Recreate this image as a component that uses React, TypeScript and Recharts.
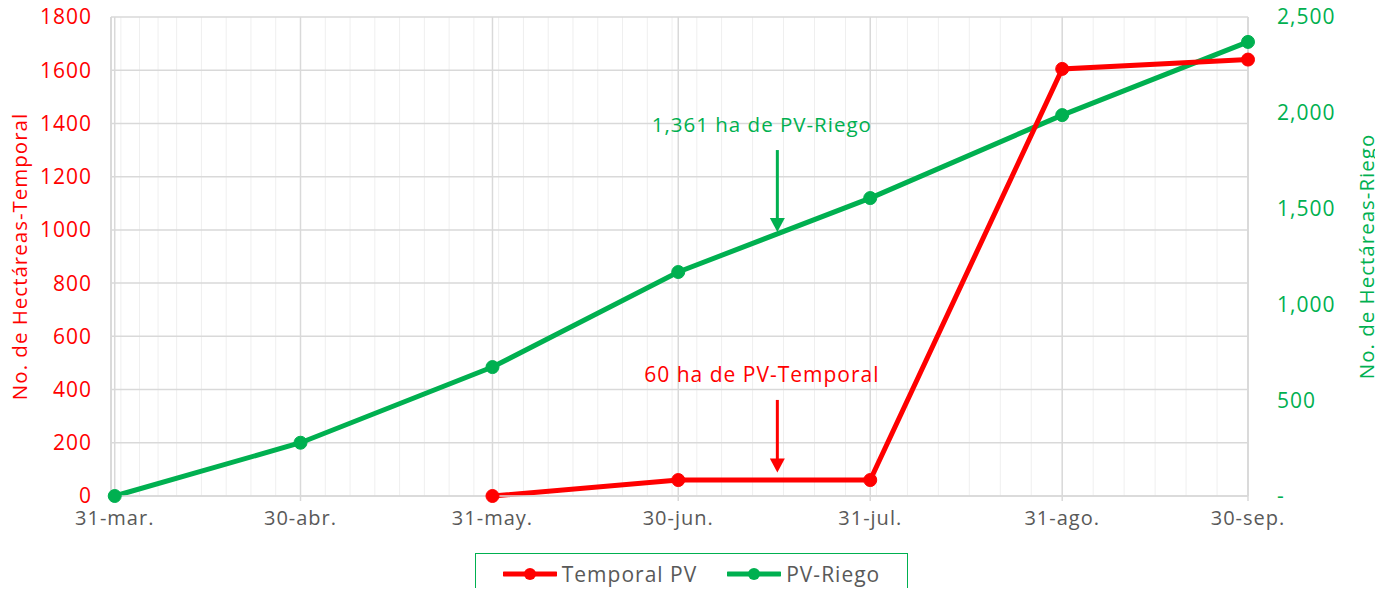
import { LineChart, Line, XAxis, YAxis, CartesianGrid, Legend, ReferenceLine, ReferenceDot } from 'recharts';

const days = [0, 30, 61, 91, 122, 153, 183];
const dateLabels = ['31-mar.', '30-abr.', '31-may.', '30-jun.', '31-jul.', '31-ago.', '30-sep.'];
const temporalPV = [null, null, 0, 60, 60, 1605, 1640];
const pvRiego = [0, 278, 673, 1169, 1555, 1988, 2370];
const leftTicks = [0, 200, 400, 600, 800, 1000, 1200, 1400, 1600, 1800];
const rightTicks = [0, 500, 1000, 1500, 2000, 2500];
const dailyTicks = Array.from({ length: 184 }, (_, i) => i);

const RED = '#ff0000';
const GREEN = '#00b050';
const GRAY = '#595959';
const FONT = '"Open Sans", sans-serif';

const data = days.map((day, i) => ({ day, temporal: temporalPV[i], riego: pvRiego[i] }));

const arrowShape = (color: string) => (props: any) => {
  const { x1, y1, x2, y2 } = props;
  return (
    <g>
      <line x1={x1} y1={y1} x2={x2} y2={y2 - 12} stroke={color} strokeWidth={3} />
      <polygon points={`${x2 - 7.5},${y2 - 14} ${x2 + 7.5},${y2 - 14} ${x2},${y2}`} fill={color} />
    </g>
  );
};

const AxisTitle = ({ viewBox, value, color, x }: any) => {
  const cy = viewBox.y + viewBox.height / 2;
  return (
    <text
      x={x}
      y={cy}
      transform={`rotate(-90, ${x}, ${cy})`}
      textAnchor="middle"
      dominantBaseline="central"
      fill={color}
      fontSize={20.5}
      fontFamily={FONT}
    >
      {value}
    </text>
  );
};

const LegendItems = () => (
  <div
    style={{
      height: 39,
      display: 'flex',
      alignItems: 'center',
      justifyContent: 'center',
      gap: 30,
      fontFamily: FONT,
      fontSize: 21,
      letterSpacing: '1px',
      color: GRAY,
    }}
  >
    {[
      { name: 'Temporal PV', color: RED },
      { name: 'PV-Riego', color: GREEN },
    ].map((item) => (
      <div key={item.name} style={{ display: 'flex', alignItems: 'center', gap: 5 }}>
        <svg width={54} height={14}>
          <line x1={1} y1={7} x2={53} y2={7} stroke={item.color} strokeWidth={5} strokeLinecap="round" />
          <circle cx={27} cy={7} r={6} fill={item.color} />
        </svg>
        <span>{item.name}</span>
      </div>
    ))}
  </div>
);

export default function App() {
  return (
    <div style={{ margin: -8, width: 1383, height: 596, fontFamily: FONT, letterSpacing: '1px', background: '#fff' }}>
      <LineChart width={1383} height={596} data={data} margin={{ top: 17, right: 0, bottom: 70, left: 0 }}>
        <XAxis xAxisId="minor" type="number" dataKey="day" domain={[-0.6, 183]} ticks={dailyTicks} hide height={0} />
        <CartesianGrid xAxisId="minor" yAxisId="left" horizontal={false} stroke="#efefef" strokeWidth={1} />
        <CartesianGrid yAxisId="left" stroke="#d9d9d9" strokeWidth={1.5} />
        <XAxis
          type="number"
          dataKey="day"
          domain={[-0.6, 183]}
          ticks={days}
          interval={0}
          tickFormatter={(v: number) => dateLabels[days.indexOf(v)]}
          height={30}
          axisLine={{ stroke: '#d9d9d9', strokeWidth: 1.5 }}
          tickLine={{ stroke: '#d9d9d9', strokeWidth: 1.5 }}
          tickSize={5}
          tickMargin={10}
          tick={{ fill: GRAY, fontSize: 20 }}
        />
        <YAxis
          yAxisId="left"
          domain={[0, 1800]}
          ticks={leftTicks}
          interval={0}
          width={111}
          axisLine={{ stroke: '#d9d9d9', strokeWidth: 1.5 }}
          tickLine={false}
          tickSize={0}
          tickMargin={19}
          tick={{ fill: RED, fontSize: 21 }}
          label={{ content: (p: any) => <AxisTitle {...p} value="No. de Hectáreas-Temporal" color={RED} x={19} /> }}
        />
        <YAxis
          yAxisId="right"
          orientation="right"
          domain={[0, 2500]}
          ticks={rightTicks}
          interval={0}
          width={135}
          axisLine={{ stroke: '#d9d9d9', strokeWidth: 1.5 }}
          tickLine={false}
          tickSize={0}
          tickMargin={29}
          tickFormatter={(v: number) => (v === 0 ? '-' : v.toLocaleString('en-US'))}
          tick={{ fill: GREEN, fontSize: 21, textAnchor: 'start' }}
          label={{ content: (p: any) => <AxisTitle {...p} value="No. de Hectáreas-Riego" color={GREEN} x={1366} /> }}
        />
        <Legend
          verticalAlign="middle"
          align="center"
          wrapperStyle={{
            left: 475,
            top: 553,
            width: 433,
            height: 42,
            boxSizing: 'border-box',
            border: `1.5px solid ${GREEN}`,
            background: '#fff',
          }}
          content={<LegendItems />}
        />
        <ReferenceLine
          yAxisId="left"
          segment={[{ x: 107, y: 1300 }, { x: 107, y: 992 }]}
          shape={arrowShape(GREEN)}
        />
        <ReferenceLine
          yAxisId="left"
          segment={[{ x: 107, y: 361 }, { x: 107, y: 88 }]}
          shape={arrowShape(RED)}
        />
        <ReferenceDot
          yAxisId="left"
          x={104.5}
          y={1394}
          r={0}
          fill="none"
          stroke="none"
          label={{ value: '1,361 ha de PV-Riego', position: 'center', fill: GREEN, fontSize: 20.5 }}
        />
        <ReferenceDot
          yAxisId="left"
          x={104.5}
          y={455}
          r={0}
          fill="none"
          stroke="none"
          label={{ value: '60 ha de PV-Temporal', position: 'center', fill: RED, fontSize: 21 }}
        />
        <Line
          yAxisId="right"
          dataKey="riego"
          name="PV-Riego"
          stroke={GREEN}
          strokeWidth={5}
          dot={{ r: 6.5, fill: GREEN, stroke: GREEN, strokeWidth: 1 }}
          activeDot={false}
          isAnimationActive={false}
        />
        <Line
          yAxisId="left"
          dataKey="temporal"
          name="Temporal PV"
          stroke={RED}
          strokeWidth={5}
          dot={{ r: 6.5, fill: RED, stroke: RED, strokeWidth: 1 }}
          activeDot={false}
          isAnimationActive={false}
        />
      </LineChart>
    </div>
  );
}
